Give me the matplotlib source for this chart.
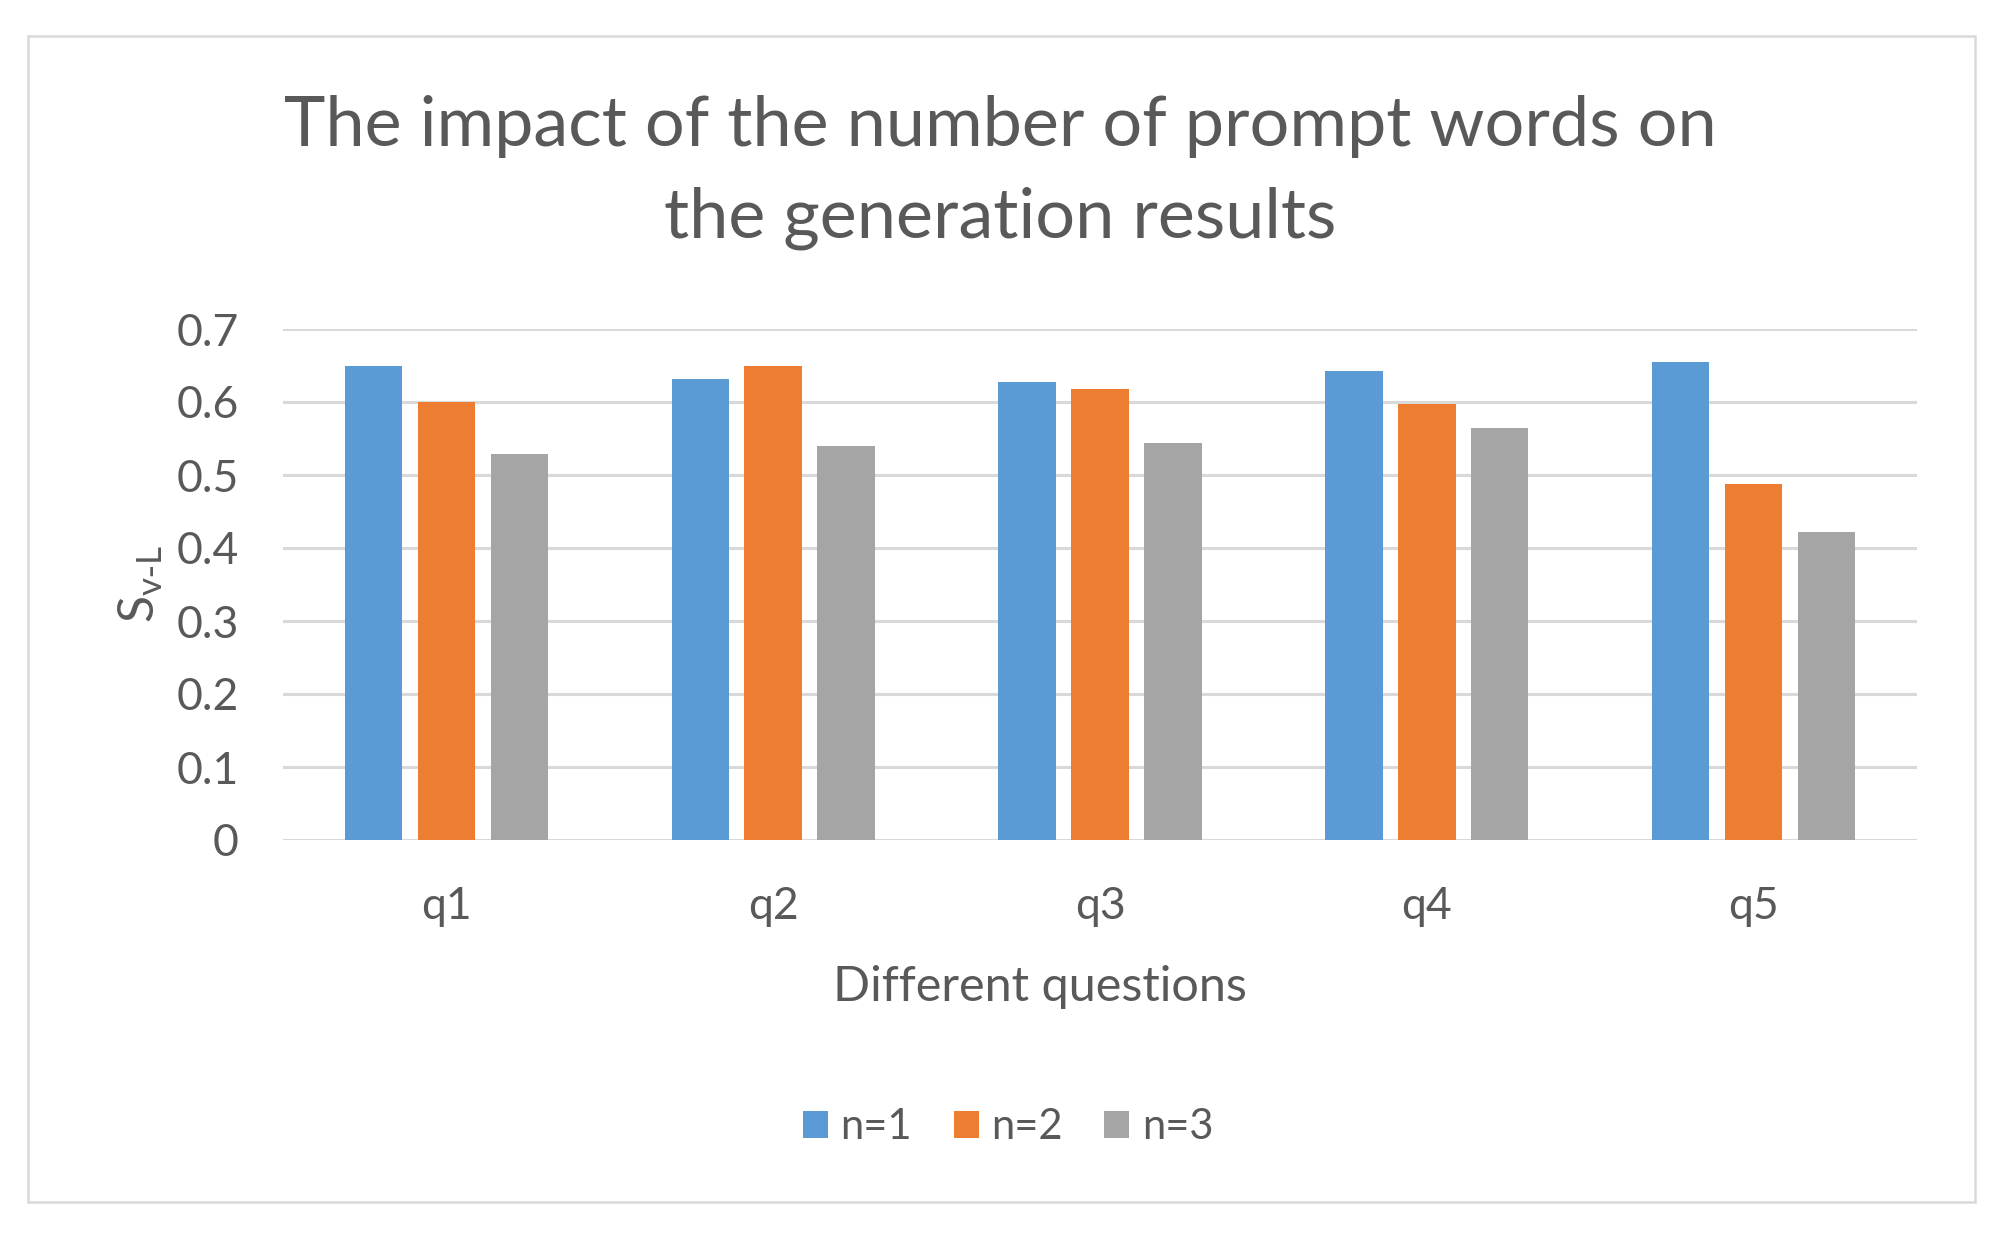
import matplotlib.pyplot as plt
import numpy as np
from matplotlib.patches import Rectangle

plt.rcParams["font.family"] = ["Lato", "DejaVu Sans"]

questions = ["q1", "q2", "q3", "q4", "q5"]
series_names = ["n=1", "n=2", "n=3"]
n1 = [0.650, 0.632, 0.628, 0.642, 0.655]
n2 = [0.600, 0.650, 0.618, 0.597, 0.487]
n3 = [0.529, 0.540, 0.544, 0.564, 0.422]
colors = ["#5B9BD5", "#ED7D31", "#A5A5A5"]
text_color = "#595959"
grid_color = "#D9D9D9"

fig = plt.figure(figsize=(20.01, 12.35), dpi=100)
W, H = 2001, 1235

# light frame around the whole chart, like an Office chart area
fig.patches.append(Rectangle((28 / W, 1 - 1202 / H), (1975 - 28) / W, (1202 - 36) / H,
                             transform=fig.transFigure, fill=False,
                             edgecolor=grid_color, linewidth=1.8))

ax = fig.add_axes([283 / W, 1 - 840 / H, (1917 - 283) / W, (840 - 329) / H])

x = np.arange(len(questions))
width = 0.176
step = 0.223
for i, (vals, name, c) in enumerate(zip([n1, n2, n3], series_names, colors)):
    ax.bar(x + (i - 1) * step, vals, width, color=c, label=name, zorder=3)

ax.set_xlim(-0.5, len(questions) - 0.5)
ax.set_ylim(0, 0.7)
ax.set_yticks(np.arange(0, 0.71, 0.1))
ax.set_yticklabels(["0", "0.1", "0.2", "0.3", "0.4", "0.5", "0.6", "0.7"])
ax.set_xticks(x)
ax.set_xticklabels(questions)
ax.grid(True, axis="y", color=grid_color, linewidth=2.2, zorder=0)
ax.tick_params(axis="both", length=0, labelsize=32, colors=text_color)
ax.tick_params(axis="y", pad=32)
ax.tick_params(axis="x", pad=33)
for s in ax.spines.values():
    s.set_visible(False)

ax.set_xlabel("Different questions", fontsize=35, color=text_color)
ax.xaxis.set_label_coords(0.463, -0.245)
ax.set_ylabel(r"S$_{\mathregular{v\text{-}L}}$", fontsize=36, color=text_color)
ax.yaxis.set_label_coords(-0.072, 0.5)

fig.text(0.5, 1 - 126 / H, "The impact of the number of prompt words on",
         ha="center", va="center", fontsize=50.5, color=text_color)
fig.text(0.5, 1 - 218 / H, "the generation results",
         ha="center", va="center", fontsize=50.5, color=text_color)

leg = fig.legend(loc="center", bbox_to_anchor=(1008 / W, 1 - 1127 / H), ncol=3,
                 frameon=False, fontsize=30, handlelength=0.6, handleheight=0.6,
                 handletextpad=0.3, columnspacing=1.0, labelcolor=text_color)

fig.savefig("out.png", dpi=100, facecolor="white")
